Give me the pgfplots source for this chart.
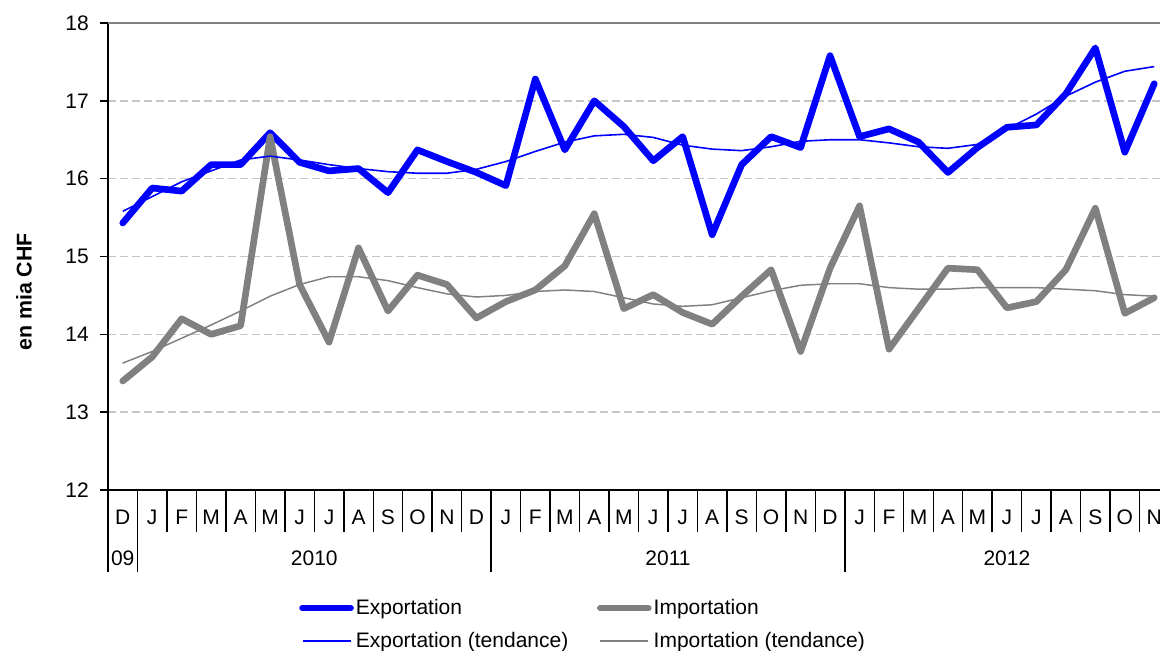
\documentclass[border=0pt]{standalone}
\usepackage{fontspec}
\setmainfont{Liberation Sans}
\usepackage{pgfplots}
\pgfplotsset{compat=1.18}
\usepackage{pgfplotstable}

% x = month slot centre, exp/imp = monthly values, expt/impt = trend
\pgfplotstableread{
x    exp   imp   expt  impt
0.5  15.43 13.40 15.58 13.63
1.5  15.88 13.71 15.77 13.78
2.5  15.84 14.20 15.96 13.95
3.5  16.18 14.00 16.10 14.12
4.5  16.18 14.11 16.24 14.30
5.5  16.59 16.54 16.29 14.49
6.5  16.21 14.64 16.24 14.64
7.5  16.10 13.90 16.18 14.74
8.5  16.13 15.11 16.13 14.74
9.5  15.82 14.30 16.09 14.69
10.5 16.37 14.76 16.07 14.60
11.5 16.22 14.64 16.07 14.52
12.5 16.08 14.21 16.12 14.48
13.5 15.91 14.42 16.22 14.50
14.5 17.28 14.57 16.35 14.55
15.5 16.37 14.88 16.47 14.57
16.5 17.00 15.55 16.55 14.55
17.5 16.67 14.33 16.57 14.47
18.5 16.23 14.51 16.53 14.39
19.5 16.54 14.28 16.43 14.36
20.5 15.28 14.13 16.38 14.38
21.5 16.18 14.49 16.36 14.47
22.5 16.54 14.83 16.41 14.56
23.5 16.40 13.78 16.48 14.63
24.5 17.58 14.85 16.50 14.65
25.5 16.54 15.65 16.50 14.65
26.5 16.64 13.81 16.46 14.60
27.5 16.47 14.33 16.41 14.58
28.5 16.08 14.85 16.39 14.58
29.5 16.40 14.83 16.44 14.60
30.5 16.66 14.34 16.64 14.60
31.5 16.69 14.42 16.83 14.60
32.5 17.09 14.83 17.06 14.58
33.5 17.68 15.62 17.24 14.56
34.5 16.34 14.27 17.38 14.51
35.5 17.22 14.47 17.44 14.49
}\data

\begin{document}
\fontsize{15.75}{18}\selectfont
\begin{tikzpicture}
\begin{axis}[
    scale only axis,
    width=795.75pt, height=350.25pt,
    xmin=0, xmax=36, ymin=12, ymax=18,
    clip=false,
    axis x line*=bottom, axis y line*=left,
    axis line style={black, line width=1.6pt},
    tick align=outside,
    major tick length=6pt,
    tick style={black, line width=1.1pt},
    ytick={12,...,18},
    yticklabel style={xshift=-3pt},
    /pgf/number format/assume math mode=true,
    ymajorgrids,
    major grid style={gray!45, line width=1.1pt, dash pattern=on 6pt off 3pt},
    extra y ticks={18}, extra y tick labels={},
    extra y tick style={grid=major, major grid style={solid, gray, line width=1.5pt}},
    xtick={0,...,36},
    x tick label as interval,
    xticklabels={D,J,F,M,A,M,J,J,A,S,O,N,D,J,F,M,A,M,J,J,A,S,O,N,D,J,F,M,A,M,J,J,A,S,O,N},
    xtick style={/pgfplots/major tick length=31.5pt},
    xticklabel style={anchor=base, yshift=-19.75pt},
    minor xtick={0,1,13,25},
    minor tick length=61.5pt,
    ylabel={\fontsize{16}{18}\selectfont\bfseries en mia CHF},
    every axis y label/.style={at={(axis description cs:-0.0792,0.424)}, rotate=90, anchor=center},
    legend columns=2,
    legend style={at={(axis description cs:0.1762,-0.2226)}, anchor=north west,
        draw=none, fill=none, row sep=8pt,
        nodes={inner sep=1.5pt},
        /tikz/every even column/.append style={column sep=20pt},
        cells={anchor=west}},
    legend image code/.code={\draw[#1] (0pt,0pt) -- (36pt,0pt);},
]
\coordinate (SW) at (rel axis cs:0,0);
\coordinate (NE) at (rel axis cs:1,1);
\addplot[blue, line width=5pt, line join=round, line cap=round] table[x=x, y=exp] {\data};
\addlegendentry{Exportation}
\addplot[gray, line width=5pt, line join=round, line cap=round] table[x=x, y=imp] {\data};
\addlegendentry{Importation}
\addplot[blue, line width=1.2pt, line join=round, forget plot] table[x=x, y=expt] {\data};
\addlegendimage{draw=blue, line width=1.2pt}
\addlegendentry{Exportation (tendance)}
\addplot[gray, line width=1.1pt, line join=round, forget plot] table[x=x, y=impt] {\data};
\addlegendimage{draw=gray, line width=1.1pt}
\addlegendentry{Importation (tendance)}
\node[anchor=base, yshift=-56.6pt] at (axis cs:0.5,12) {09};
\node[anchor=base, yshift=-56.6pt] at (axis cs:7,12) {2010};
\node[anchor=base, yshift=-56.6pt] at (axis cs:19,12) {2011};
\node[anchor=base, yshift=-56.6pt] at (axis cs:30.5,12) {2012};
\end{axis}
\pgfresetboundingbox
\path ([shift={(-81pt,-120.75pt)}]SW) rectangle ([shift={(-6.75pt,17.25pt)}]NE);
\end{tikzpicture}
\end{document}
